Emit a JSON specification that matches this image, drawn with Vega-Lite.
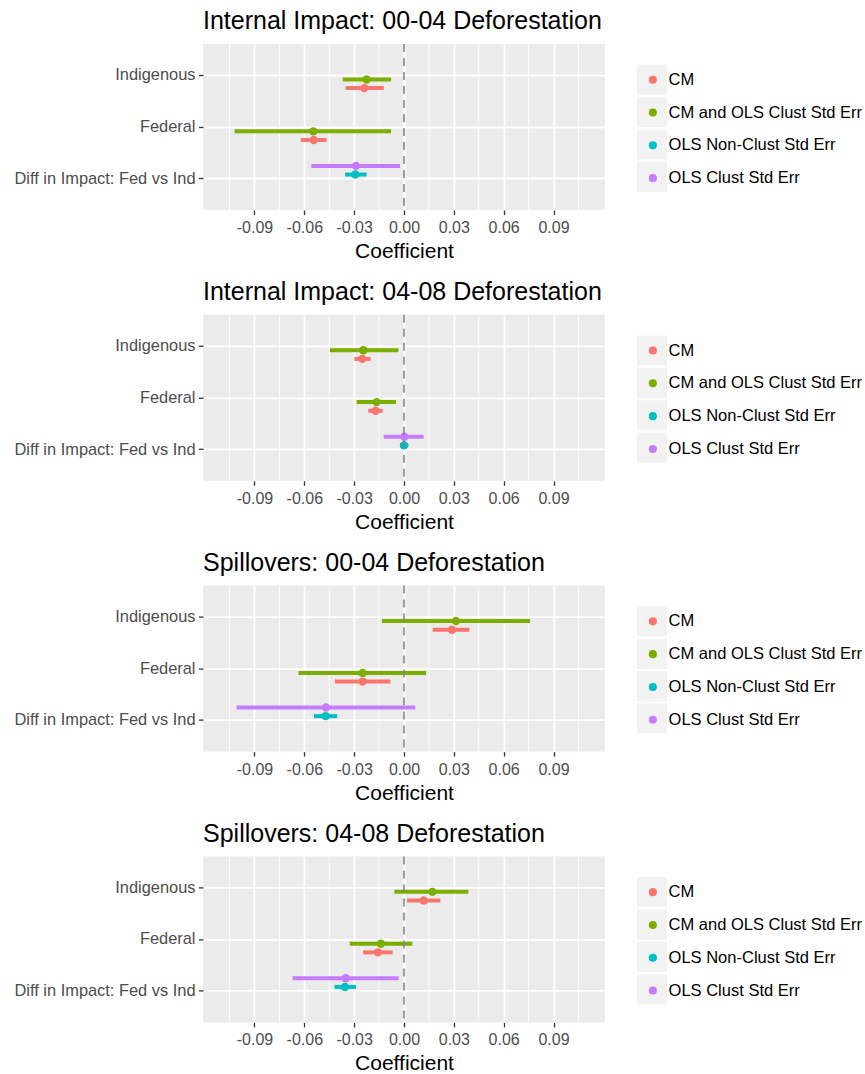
{
  "$schema": "https://vega.github.io/schema/vega-lite/v6.json",
  "padding": {"left": 14, "top": 9, "right": 0, "bottom": 3},
  "datasets": {
    "minor": [{"v": -0.105}, {"v": -0.075}, {"v": -0.045}, {"v": -0.015}, {"v": 0.015}, {"v": 0.045}, {"v": 0.075}, {"v": 0.105}],
    "p1": [
      {"term": "Diff in Impact: Fed vs Ind", "series": "OLS Clust Std Err", "est": -0.0289, "lo": -0.0558, "hi": -0.0024},
      {"term": "Diff in Impact: Fed vs Ind", "series": "OLS Non-Clust Std Err", "est": -0.0293, "lo": -0.0355, "hi": -0.0225},
      {"term": "Indigenous", "series": "CM and OLS Clust Std Err", "est": -0.0225, "lo": -0.0369, "hi": -0.0078},
      {"term": "Federal", "series": "CM and OLS Clust Std Err", "est": -0.0546, "lo": -0.102, "hi": -0.0078},
      {"term": "Indigenous", "series": "CM", "est": -0.0239, "lo": -0.0351, "hi": -0.0122},
      {"term": "Federal", "series": "CM", "est": -0.0544, "lo": -0.0622, "hi": -0.0466}
    ],
    "p2": [
      {"term": "Diff in Impact: Fed vs Ind", "series": "OLS Clust Std Err", "est": 0.0002, "lo": -0.0122, "hi": 0.0118},
      {"term": "Diff in Impact: Fed vs Ind", "series": "OLS Non-Clust Std Err", "est": 0.0, "lo": -0.0024, "hi": 0.0026},
      {"term": "Indigenous", "series": "CM and OLS Clust Std Err", "est": -0.0245, "lo": -0.0446, "hi": -0.0034},
      {"term": "Federal", "series": "CM and OLS Clust Std Err", "est": -0.0165, "lo": -0.0285, "hi": -0.0048},
      {"term": "Indigenous", "series": "CM", "est": -0.0251, "lo": -0.0299, "hi": -0.0201},
      {"term": "Federal", "series": "CM", "est": -0.0171, "lo": -0.0215, "hi": -0.0129}
    ],
    "p3": [
      {"term": "Diff in Impact: Fed vs Ind", "series": "OLS Clust Std Err", "est": -0.047, "lo": -0.1008, "hi": 0.0068},
      {"term": "Diff in Impact: Fed vs Ind", "series": "OLS Non-Clust Std Err", "est": -0.0472, "lo": -0.0542, "hi": -0.0402},
      {"term": "Indigenous", "series": "CM and OLS Clust Std Err", "est": 0.0313, "lo": -0.0133, "hi": 0.0759},
      {"term": "Federal", "series": "CM and OLS Clust Std Err", "est": -0.0249, "lo": -0.0635, "hi": 0.0133},
      {"term": "Indigenous", "series": "CM", "est": 0.0289, "lo": 0.0173, "hi": 0.0394},
      {"term": "Federal", "series": "CM", "est": -0.0249, "lo": -0.0416, "hi": -0.0082}
    ],
    "p4": [
      {"term": "Diff in Impact: Fed vs Ind", "series": "OLS Clust Std Err", "est": -0.0351, "lo": -0.0671, "hi": -0.0032},
      {"term": "Diff in Impact: Fed vs Ind", "series": "OLS Non-Clust Std Err", "est": -0.0355, "lo": -0.0418, "hi": -0.0289},
      {"term": "Indigenous", "series": "CM and OLS Clust Std Err", "est": 0.0171, "lo": -0.0058, "hi": 0.0388},
      {"term": "Federal", "series": "CM and OLS Clust Std Err", "est": -0.0139, "lo": -0.0327, "hi": 0.005},
      {"term": "Indigenous", "series": "CM", "est": 0.0118, "lo": 0.0018, "hi": 0.0219},
      {"term": "Federal", "series": "CM", "est": -0.0157, "lo": -0.0247, "hi": -0.0068}
    ]
  },
  "spacing": 17.8,
  "resolve": {"legend": {"color": "independent", "opacity": "independent"}},
  "vconcat": [
    {
      "title": {"text": "Internal Impact: 00-04 Deforestation"},
      "width": 402, "height": 166,
      "data": {"name": "p1"},
      "layer": [
        {"data": {"name": "minor"},
         "mark": {"type": "rule", "color": "white", "strokeWidth": 0.9},
         "encoding": {"x": {"field": "v", "type": "quantitative", "title": "Coefficient"}}},
        {"mark": {"type": "rule", "strokeWidth": 4},
         "encoding": {
           "y": {"field": "term", "type": "nominal", "title": null, "scale": {"domain": ["Indigenous", "Federal", "Diff in Impact: Fed vs Ind"], "paddingInner": 0, "paddingOuter": 0.1}, "axis": {"bandPosition": 0.5}},
           "yOffset": {"field": "series", "type": "nominal", "scale": {"type": "band", "domain": ["OLS Clust Std Err", "OLS Non-Clust Std Err", "CM and OLS Clust Std Err", "CM"], "paddingInner": 0, "paddingOuter": 4.5}},
           "x": {"field": "lo", "type": "quantitative", "title": "Coefficient", "scale": {"domain": [-0.121, 0.121], "nice": false, "zero": false},
                 "axis": {"values": [-0.09, -0.06, -0.03, 0, 0.03, 0.06, 0.09], "labelExpr": "(datum.value < -0.0001 ? '-' : '') + format(abs(datum.value), '.2f')", "labelPadding": 5, "titlePadding": 5, "labelFlush": false, "labelOverlap": false, "gridWidth": 1.8}},
           "x2": {"field": "hi"},
           "color": {"field": "series", "type": "nominal", "scale": {"domain": ["CM", "CM and OLS Clust Std Err", "OLS Non-Clust Std Err", "OLS Clust Std Err"], "range": ["#F8766D", "#7CAE00", "#00BFC4", "#C77CFF"]}, "legend": {"orient": "none", "legendX": 441.6, "legendY": 27.5, "zindex": 2, "symbolType": "circle", "symbolSize": 66, "symbolStrokeWidth": 0, "labelOffset": 7.5, "rowPadding": 15.8, "labelFontSize": 16.5, "labelColor": "black", "labelLimit": 300, "title": null, "padding": 0}}
         }},
        {"mark": {"type": "point", "filled": true, "size": 70, "opacity": 1, "strokeWidth": 0},
         "encoding": {
           "y": {"field": "term", "type": "nominal", "title": null},
           "yOffset": {"field": "series", "type": "nominal"},
           "x": {"field": "est", "type": "quantitative", "title": "Coefficient"},
           "color": {"field": "series", "type": "nominal", "legend": {"orient": "none", "legendX": 441.6, "legendY": 27.5, "zindex": 2, "symbolType": "circle", "symbolSize": 66, "symbolStrokeWidth": 0, "labelOffset": 7.5, "rowPadding": 15.8, "labelFontSize": 16.5, "labelColor": "black", "labelLimit": 300, "title": null, "padding": 0}},
           "opacity": {"field": "series", "type": "ordinal", "scale": {"range": [1, 1]}, "legend": {"orient": "none", "legendX": 434, "legendY": 20.7, "zindex": 1, "symbolType": "square", "symbolSize": 900, "symbolFillColor": "#F2F2F2", "symbolStrokeWidth": 0, "labelExpr": "''", "labelFontSize": 16.5, "rowPadding": 2.4, "title": null, "padding": 0}}
         }},
        {"data": {"values": [{}]},
         "mark": {"type": "rule", "strokeDash": [8, 6], "color": "#808080", "strokeWidth": 1.5},
         "encoding": {"x": {"datum": 0}}}
      ]
    },
    {
      "title": {"text": "Internal Impact: 04-08 Deforestation"},
      "width": 402, "height": 166,
      "data": {"name": "p2"},
      "layer": [
        {"data": {"name": "minor"},
         "mark": {"type": "rule", "color": "white", "strokeWidth": 0.9},
         "encoding": {"x": {"field": "v", "type": "quantitative", "title": "Coefficient"}}},
        {"mark": {"type": "rule", "strokeWidth": 4},
         "encoding": {
           "y": {"field": "term", "type": "nominal", "title": null, "scale": {"domain": ["Indigenous", "Federal", "Diff in Impact: Fed vs Ind"], "paddingInner": 0, "paddingOuter": 0.1}, "axis": {"bandPosition": 0.5}},
           "yOffset": {"field": "series", "type": "nominal", "scale": {"type": "band", "domain": ["OLS Clust Std Err", "OLS Non-Clust Std Err", "CM and OLS Clust Std Err", "CM"], "paddingInner": 0, "paddingOuter": 4.5}},
           "x": {"field": "lo", "type": "quantitative", "title": "Coefficient", "scale": {"domain": [-0.121, 0.121], "nice": false, "zero": false},
                 "axis": {"values": [-0.09, -0.06, -0.03, 0, 0.03, 0.06, 0.09], "labelExpr": "(datum.value < -0.0001 ? '-' : '') + format(abs(datum.value), '.2f')", "labelPadding": 5, "titlePadding": 5, "labelFlush": false, "labelOverlap": false, "gridWidth": 1.8}},
           "x2": {"field": "hi"},
           "color": {"field": "series", "type": "nominal", "scale": {"domain": ["CM", "CM and OLS Clust Std Err", "OLS Non-Clust Std Err", "OLS Clust Std Err"], "range": ["#F8766D", "#7CAE00", "#00BFC4", "#C77CFF"]}, "legend": {"orient": "none", "legendX": 441.6, "legendY": 27.5, "zindex": 2, "symbolType": "circle", "symbolSize": 66, "symbolStrokeWidth": 0, "labelOffset": 7.5, "rowPadding": 15.8, "labelFontSize": 16.5, "labelColor": "black", "labelLimit": 300, "title": null, "padding": 0}}
         }},
        {"mark": {"type": "point", "filled": true, "size": 70, "opacity": 1, "strokeWidth": 0},
         "encoding": {
           "y": {"field": "term", "type": "nominal", "title": null},
           "yOffset": {"field": "series", "type": "nominal"},
           "x": {"field": "est", "type": "quantitative", "title": "Coefficient"},
           "color": {"field": "series", "type": "nominal", "legend": {"orient": "none", "legendX": 441.6, "legendY": 27.5, "zindex": 2, "symbolType": "circle", "symbolSize": 66, "symbolStrokeWidth": 0, "labelOffset": 7.5, "rowPadding": 15.8, "labelFontSize": 16.5, "labelColor": "black", "labelLimit": 300, "title": null, "padding": 0}},
           "opacity": {"field": "series", "type": "ordinal", "scale": {"range": [1, 1]}, "legend": {"orient": "none", "legendX": 434, "legendY": 20.7, "zindex": 1, "symbolType": "square", "symbolSize": 900, "symbolFillColor": "#F2F2F2", "symbolStrokeWidth": 0, "labelExpr": "''", "labelFontSize": 16.5, "rowPadding": 2.4, "title": null, "padding": 0}}
         }},
        {"data": {"values": [{}]},
         "mark": {"type": "rule", "strokeDash": [8, 6], "color": "#808080", "strokeWidth": 1.5},
         "encoding": {"x": {"datum": 0}}}
      ]
    },
    {
      "title": {"text": "Spillovers: 00-04 Deforestation"},
      "width": 402, "height": 166,
      "data": {"name": "p3"},
      "layer": [
        {"data": {"name": "minor"},
         "mark": {"type": "rule", "color": "white", "strokeWidth": 0.9},
         "encoding": {"x": {"field": "v", "type": "quantitative", "title": "Coefficient"}}},
        {"mark": {"type": "rule", "strokeWidth": 4},
         "encoding": {
           "y": {"field": "term", "type": "nominal", "title": null, "scale": {"domain": ["Indigenous", "Federal", "Diff in Impact: Fed vs Ind"], "paddingInner": 0, "paddingOuter": 0.1}, "axis": {"bandPosition": 0.5}},
           "yOffset": {"field": "series", "type": "nominal", "scale": {"type": "band", "domain": ["OLS Clust Std Err", "OLS Non-Clust Std Err", "CM and OLS Clust Std Err", "CM"], "paddingInner": 0, "paddingOuter": 4.5}},
           "x": {"field": "lo", "type": "quantitative", "title": "Coefficient", "scale": {"domain": [-0.121, 0.121], "nice": false, "zero": false},
                 "axis": {"values": [-0.09, -0.06, -0.03, 0, 0.03, 0.06, 0.09], "labelExpr": "(datum.value < -0.0001 ? '-' : '') + format(abs(datum.value), '.2f')", "labelPadding": 5, "titlePadding": 5, "labelFlush": false, "labelOverlap": false, "gridWidth": 1.8}},
           "x2": {"field": "hi"},
           "color": {"field": "series", "type": "nominal", "scale": {"domain": ["CM", "CM and OLS Clust Std Err", "OLS Non-Clust Std Err", "OLS Clust Std Err"], "range": ["#F8766D", "#7CAE00", "#00BFC4", "#C77CFF"]}, "legend": {"orient": "none", "legendX": 441.6, "legendY": 27.5, "zindex": 2, "symbolType": "circle", "symbolSize": 66, "symbolStrokeWidth": 0, "labelOffset": 7.5, "rowPadding": 15.8, "labelFontSize": 16.5, "labelColor": "black", "labelLimit": 300, "title": null, "padding": 0}}
         }},
        {"mark": {"type": "point", "filled": true, "size": 70, "opacity": 1, "strokeWidth": 0},
         "encoding": {
           "y": {"field": "term", "type": "nominal", "title": null},
           "yOffset": {"field": "series", "type": "nominal"},
           "x": {"field": "est", "type": "quantitative", "title": "Coefficient"},
           "color": {"field": "series", "type": "nominal", "legend": {"orient": "none", "legendX": 441.6, "legendY": 27.5, "zindex": 2, "symbolType": "circle", "symbolSize": 66, "symbolStrokeWidth": 0, "labelOffset": 7.5, "rowPadding": 15.8, "labelFontSize": 16.5, "labelColor": "black", "labelLimit": 300, "title": null, "padding": 0}},
           "opacity": {"field": "series", "type": "ordinal", "scale": {"range": [1, 1]}, "legend": {"orient": "none", "legendX": 434, "legendY": 20.7, "zindex": 1, "symbolType": "square", "symbolSize": 900, "symbolFillColor": "#F2F2F2", "symbolStrokeWidth": 0, "labelExpr": "''", "labelFontSize": 16.5, "rowPadding": 2.4, "title": null, "padding": 0}}
         }},
        {"data": {"values": [{}]},
         "mark": {"type": "rule", "strokeDash": [8, 6], "color": "#808080", "strokeWidth": 1.5},
         "encoding": {"x": {"datum": 0}}}
      ]
    },
    {
      "title": {"text": "Spillovers: 04-08 Deforestation"},
      "width": 402, "height": 166,
      "data": {"name": "p4"},
      "layer": [
        {"data": {"name": "minor"},
         "mark": {"type": "rule", "color": "white", "strokeWidth": 0.9},
         "encoding": {"x": {"field": "v", "type": "quantitative", "title": "Coefficient"}}},
        {"mark": {"type": "rule", "strokeWidth": 4},
         "encoding": {
           "y": {"field": "term", "type": "nominal", "title": null, "scale": {"domain": ["Indigenous", "Federal", "Diff in Impact: Fed vs Ind"], "paddingInner": 0, "paddingOuter": 0.1}, "axis": {"bandPosition": 0.5}},
           "yOffset": {"field": "series", "type": "nominal", "scale": {"type": "band", "domain": ["OLS Clust Std Err", "OLS Non-Clust Std Err", "CM and OLS Clust Std Err", "CM"], "paddingInner": 0, "paddingOuter": 4.5}},
           "x": {"field": "lo", "type": "quantitative", "title": "Coefficient", "scale": {"domain": [-0.121, 0.121], "nice": false, "zero": false},
                 "axis": {"values": [-0.09, -0.06, -0.03, 0, 0.03, 0.06, 0.09], "labelExpr": "(datum.value < -0.0001 ? '-' : '') + format(abs(datum.value), '.2f')", "labelPadding": 5, "titlePadding": 5, "labelFlush": false, "labelOverlap": false, "gridWidth": 1.8}},
           "x2": {"field": "hi"},
           "color": {"field": "series", "type": "nominal", "scale": {"domain": ["CM", "CM and OLS Clust Std Err", "OLS Non-Clust Std Err", "OLS Clust Std Err"], "range": ["#F8766D", "#7CAE00", "#00BFC4", "#C77CFF"]}, "legend": {"orient": "none", "legendX": 441.6, "legendY": 27.5, "zindex": 2, "symbolType": "circle", "symbolSize": 66, "symbolStrokeWidth": 0, "labelOffset": 7.5, "rowPadding": 15.8, "labelFontSize": 16.5, "labelColor": "black", "labelLimit": 300, "title": null, "padding": 0}}
         }},
        {"mark": {"type": "point", "filled": true, "size": 70, "opacity": 1, "strokeWidth": 0},
         "encoding": {
           "y": {"field": "term", "type": "nominal", "title": null},
           "yOffset": {"field": "series", "type": "nominal"},
           "x": {"field": "est", "type": "quantitative", "title": "Coefficient"},
           "color": {"field": "series", "type": "nominal", "legend": {"orient": "none", "legendX": 441.6, "legendY": 27.5, "zindex": 2, "symbolType": "circle", "symbolSize": 66, "symbolStrokeWidth": 0, "labelOffset": 7.5, "rowPadding": 15.8, "labelFontSize": 16.5, "labelColor": "black", "labelLimit": 300, "title": null, "padding": 0}},
           "opacity": {"field": "series", "type": "ordinal", "scale": {"range": [1, 1]}, "legend": {"orient": "none", "legendX": 434, "legendY": 20.7, "zindex": 1, "symbolType": "square", "symbolSize": 900, "symbolFillColor": "#F2F2F2", "symbolStrokeWidth": 0, "labelExpr": "''", "labelFontSize": 16.5, "rowPadding": 2.4, "title": null, "padding": 0}}
         }},
        {"data": {"values": [{}]},
         "mark": {"type": "rule", "strokeDash": [8, 6], "color": "#808080", "strokeWidth": 1.5},
         "encoding": {"x": {"datum": 0}}}
      ]
    }
  ],
  "config": {
    "font": "Liberation Sans",
    "view": {"fill": "#EBEBEB", "stroke": null},
    "title": {"anchor": "start", "frame": "group", "fontSize": 25, "fontWeight": "normal", "color": "black", "baseline": "bottom", "offset": 9, "font": "Liberation Sans"},
    "legend": {"labelFont": "Liberation Sans", "labelLimit": 300},
    "axis": {"domain": false, "grid": true, "gridColor": "white", "tickColor": "#333333", "tickWidth": 1.3, "tickSize": 4.5, "labelColor": "#4D4D4D", "labelFontSize": 16, "labelFont": "Liberation Sans", "titleFont": "Liberation Sans", "titleFontSize": 21, "titleFontWeight": "normal", "titleColor": "black", "labelLimit": 300},
    "axisY": {"labelPadding": 3.5, "gridWidth": 1.8, "labelFontSize": 16.4}
  }
}
